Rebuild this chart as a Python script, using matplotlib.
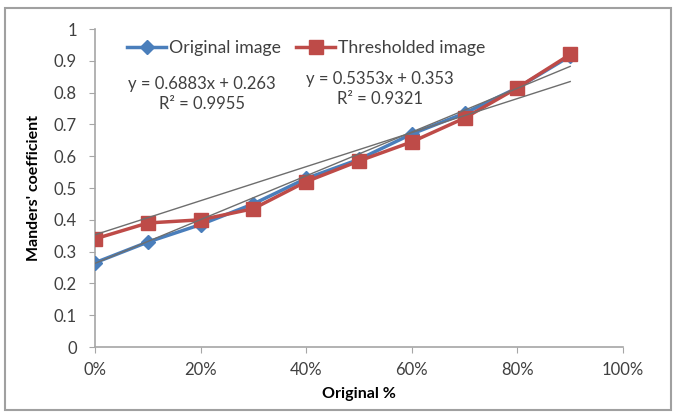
import matplotlib
matplotlib.use("Agg")
import matplotlib.pyplot as plt
from matplotlib.patches import Rectangle
import numpy as np

plt.rcParams["font.family"] = ["Lato", "DejaVu Sans"]

# Data
original_pct = [0.0, 0.1, 0.2, 0.3, 0.4, 0.5, 0.6, 0.7, 0.8, 0.9]
original_image = [0.265, 0.33, 0.385, 0.45, 0.53, 0.59, 0.67, 0.735, 0.815, 0.915]
thresholded_image = [0.34, 0.39, 0.40, 0.435, 0.52, 0.585, 0.645, 0.72, 0.815, 0.92]

# Trendline coefficients shown on the chart
orig_fit = (0.6883, 0.263)
thr_fit = (0.5353, 0.353)

x_ticks = [0, 0.2, 0.4, 0.6, 0.8, 1.0]
x_tick_labels = ["0%", "20%", "40%", "60%", "80%", "100%"]
y_ticks = [0, 0.1, 0.2, 0.3, 0.4, 0.5, 0.6, 0.7, 0.8, 0.9, 1]
y_tick_labels = ["0", "0.1", "0.2", "0.3", "0.4", "0.5", "0.6", "0.7", "0.8", "0.9", "1"]

BLUE = "#4A7EBB"
RED = "#BE4B48"
GRID = "#A6A6A6"
TEXT = "#404040"

fig = plt.figure(figsize=(6.76, 4.15), dpi=100)
ax = fig.add_axes([95 / 676, 1 - 347 / 415, 528 / 676, 318 / 415])

# outer chart border
fig.patches.append(Rectangle((5 / 676, 1 - 410 / 415), 666 / 676, 402 / 415,
                             transform=fig.transFigure, fill=False,
                             edgecolor="#A0A0A0", linewidth=1.5))

# data series
ax.plot(original_pct, original_image, color=BLUE, lw=2.5, marker="D",
        markersize=7.5, label="Original image", zorder=3)
ax.plot(original_pct, thresholded_image, color=RED, lw=2.5, marker="s",
        markersize=10, label="Thresholded image", zorder=4)

# linear trendlines
xs = np.array([original_pct[0], original_pct[-1]])
ax.plot(xs, orig_fit[0] * xs + orig_fit[1], color="#6E6E6E", lw=1, zorder=5)
ax.plot(xs, thr_fit[0] * xs + thr_fit[1], color="#6E6E6E", lw=1, zorder=5)

ax.text(0.203, 0.796, "y = 0.6883x + 0.263\nR² = 0.9955", ha="center", va="center",
        fontsize=12, color=TEXT, linespacing=1.3)
ax.text(0.54, 0.811, "y = 0.5353x + 0.353\nR² = 0.9321", ha="center", va="center",
        fontsize=12, color=TEXT, linespacing=1.3)

ax.set_xlim(0, 1)
ax.set_ylim(0, 1)
ax.set_xticks(x_ticks)
ax.set_xticklabels(x_tick_labels)
ax.set_yticks(y_ticks)
ax.set_yticklabels(y_tick_labels)
ax.tick_params(axis="both", direction="out", length=4, color=GRID,
               labelsize=12, labelcolor=TEXT)
ax.tick_params(axis="y", pad=9)
ax.tick_params(axis="x", pad=7)

for side in ["top", "right"]:
    ax.spines[side].set_visible(False)
for side in ["left", "bottom"]:
    ax.spines[side].set_color(GRID)
    ax.spines[side].set_linewidth(1.2)

ax.set_xlabel("Original %", fontsize=11.5, fontweight="bold", color="black", labelpad=6)
ax.set_ylabel("Manders' coefficient", fontsize=11.5, fontweight="bold", color="black", labelpad=9)

ax.legend(loc="center", bbox_to_anchor=(0.40, 0.94), ncol=2, frameon=False,
          fontsize=12.7, handlelength=2.2, handletextpad=0.15, columnspacing=0.9,
          labelcolor=TEXT)

fig.savefig("out.png", dpi=100)
